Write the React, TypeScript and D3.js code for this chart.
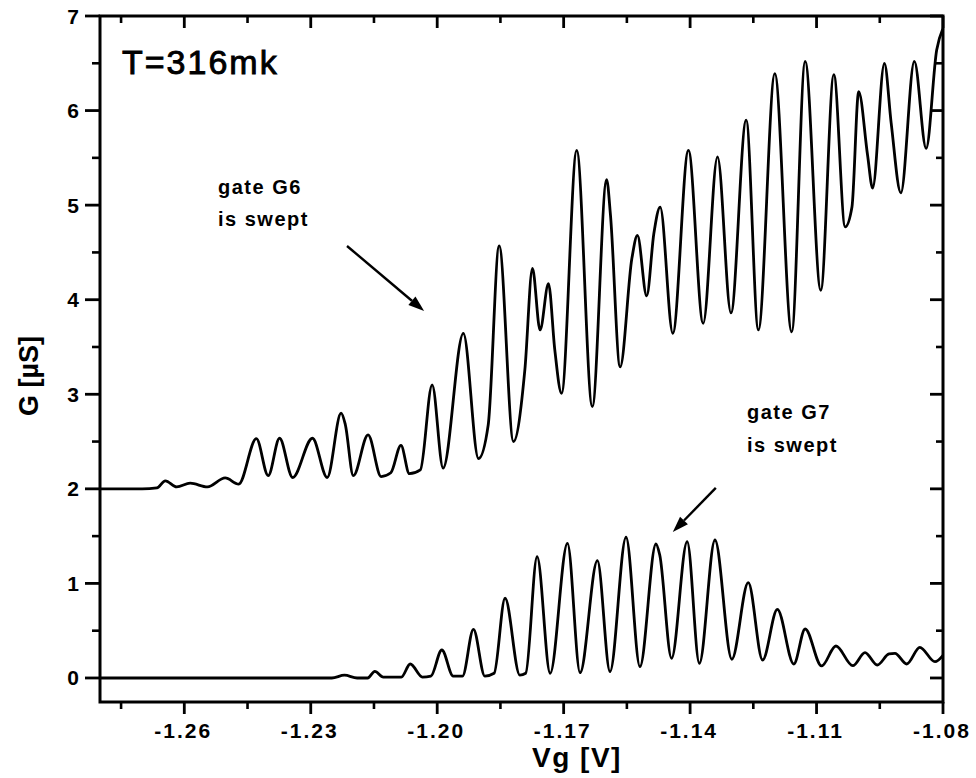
import React from "react";
import * as d3 from "d3";

// ---- data ----
const g6Vg = [
  -1.28, -1.27, -1.2665, -1.2645, -1.2618, -1.2586, -1.2545, -1.2503, -1.2471,
  -1.2429, -1.2401, -1.2374, -1.2343, -1.2296, -1.2261, -1.2228, -1.2218, -1.2199,
  -1.2164, -1.2133, -1.211, -1.2086, -1.2066, -1.204, -1.2012, -1.1986, -1.1938,
  -1.1902, -1.1879, -1.1853, -1.1819, -1.1792, -1.1774, -1.1756, -1.1736, -1.1721,
  -1.1705, -1.1669, -1.1632, -1.1598, -1.1589, -1.1566, -1.1538, -1.1525, -1.1503,
  -1.1486, -1.1471, -1.1441, -1.1404, -1.1369, -1.1335, -1.1303, -1.1267, -1.1238,
  -1.1199, -1.1159, -1.1127, -1.109, -1.1059, -1.1032, -1.1016, -1.1, -1.0979,
  -1.0967, -1.0939, -1.0923, -1.09, -1.0868, -1.084, -1.0815, -1.08,
];
const g6G = [
  2.0, 2.0, 2.01, 2.085, 2.02, 2.06, 2.02, 2.115, 2.05,
  2.53, 2.14, 2.535, 2.12, 2.535, 2.12, 2.8, 2.68, 2.14,
  2.57, 2.13, 2.17, 2.46, 2.16, 2.2, 3.1, 2.22, 3.645,
  2.32, 2.675, 4.57, 2.5, 3.26, 4.33, 3.68, 4.17, 3.47,
  3.01, 5.58, 2.87, 5.27, 4.9, 3.29, 4.44, 4.68, 4.04,
  4.7, 4.98, 3.645, 5.58, 3.75, 5.51, 3.86, 5.9, 3.68,
  6.39, 3.66, 6.52, 4.1, 6.38, 4.77, 4.98, 6.2, 5.53,
  5.18, 6.5, 5.87, 5.13, 6.52, 5.6, 6.64, 6.87,
];
const g7Vg = [
  -1.28, -1.225, -1.222, -1.219, -1.2165, -1.2148, -1.2128, -1.2085, -1.2064,
  -1.2035, -1.2015, -1.1989, -1.1962, -1.194, -1.1914, -1.1887, -1.1865, -1.1839,
  -1.1804, -1.179, -1.1763, -1.1732, -1.1691, -1.1661, -1.162, -1.159, -1.1552,
  -1.1519, -1.1481, -1.1472, -1.1444, -1.1407, -1.1378, -1.1341, -1.1301, -1.1262,
  -1.1228, -1.1193, -1.1154, -1.1127, -1.1088, -1.1054, -1.1014, -1.0985, -1.0956,
  -1.0928, -1.0914, -1.0886, -1.0855, -1.0819, -1.08,
];
const g7G = [
  0.0, 0.0, 0.03, 0.0, 0.0, 0.07, 0.01, 0.01, 0.148,
  0.01, 0.02, 0.296, 0.02, 0.02, 0.515, 0.02, 0.05, 0.843,
  0.03, 0.05, 1.283, 0.05, 1.424, 0.056, 1.24, 0.067, 1.488,
  0.12, 1.417, 1.3, 0.208, 1.441, 0.155, 1.459, 0.198, 1.008,
  0.19, 0.726, 0.148, 0.518, 0.127, 0.338, 0.13, 0.268, 0.137,
  0.254, 0.26, 0.148, 0.324, 0.172, 0.24,
];
const xTickLabels = ["-1.26", "-1.23", "-1.20", "-1.17", "-1.14", "-1.11", "-1.08"];
const yTickLabels = ["0", "1", "2", "3", "4", "5", "6", "7"];
const xMinorTicks = [-1.275, -1.245, -1.215, -1.185, -1.155, -1.125, -1.095];
const yMinorTicks = [0.5, 1.5, 2.5, 3.5, 4.5, 5.5, 6.5];

const W = 976;
const H = 778;
const L = 100, R = 943, T = 16, B = 702;

export default function App() {
  const x = d3.scaleLinear().domain([-1.28, -1.08]).range([L, R]);
  const y = d3.scaleLinear().domain([-0.254, 7]).range([B, T]);
  const line = d3
    .line<[number, number]>()
    .x((d) => x(d[0]))
    .y((d) => y(d[1]))
    .curve(d3.curveMonotoneX);
  const s6 = g6Vg.map((v, i) => [v, g6G[i]] as [number, number]);
  const s7 = g7Vg.map((v, i) => [v, g7G[i]] as [number, number]);
  const xMajor = xTickLabels.map(Number);
  const yMajor = yTickLabels.map(Number);
  const font = "'Liberation Sans', Arial, Helvetica, sans-serif";
  const arrow = (x1: number, y1: number, x2: number, y2: number) => {
    const px1 = x(x1), py1 = y(y1), px2 = x(x2), py2 = y(y2);
    const ang = Math.atan2(py2 - py1, px2 - px1);
    const len = 16, wid = 5.5;
    const bx = px2 - len * Math.cos(ang), by = py2 - len * Math.sin(ang);
    const nx = -Math.sin(ang), ny = Math.cos(ang);
    return (
      <g>
        <line x1={px1} y1={py1} x2={bx} y2={by} stroke="#000" strokeWidth={2.4} />
        <polygon
          points={`${px2},${py2} ${bx + nx * wid},${by + ny * wid} ${bx - nx * wid},${by - ny * wid}`}
          fill="#000"
        />
      </g>
    );
  };
  return (
    <svg
      width={W}
      height={H}
      style={{ position: "absolute", left: 0, top: 0, background: "#fff" }}
      fontFamily={font}
    >
      <rect x={0} y={0} width={W} height={H} fill="#fff" />
      {/* curves */}
      <path d={line(s6) || ""} fill="none" stroke="#000" strokeWidth={2.8} strokeLinejoin="round" />
      <path d={line(s7) || ""} fill="none" stroke="#000" strokeWidth={2.8} strokeLinejoin="round" />
      {/* frame */}
      <rect x={L} y={T} width={R - L} height={B - T} fill="none" stroke="#000" strokeWidth={3} />
      {/* bottom & top ticks */}
      {xMajor.map((v) => (
        <g key={"xm" + v}>
          <line x1={x(v)} x2={x(v)} y1={B} y2={B + 12} stroke="#000" strokeWidth={2.8} />
          <line x1={x(v)} x2={x(v)} y1={T} y2={T + 12} stroke="#000" strokeWidth={2.8} />
        </g>
      ))}
      {xMinorTicks.map((v) => (
        <g key={"xn" + v}>
          <line x1={x(v)} x2={x(v)} y1={B} y2={B + 7} stroke="#000" strokeWidth={2.6} />
          <line x1={x(v)} x2={x(v)} y1={T} y2={T + 7} stroke="#000" strokeWidth={2.6} />
        </g>
      ))}
      {/* left & right ticks */}
      {yMajor.map((v) => (
        <g key={"ym" + v}>
          <line x1={L - 15} x2={L} y1={y(v)} y2={y(v)} stroke="#000" strokeWidth={2.8} />
          <line x1={R - 13} x2={R} y1={y(v)} y2={y(v)} stroke="#000" strokeWidth={2.8} />
        </g>
      ))}
      {yMinorTicks.map((v) => (
        <g key={"yn" + v}>
          <line x1={L - 8} x2={L} y1={y(v)} y2={y(v)} stroke="#000" strokeWidth={2.6} />
          <line x1={R - 7} x2={R} y1={y(v)} y2={y(v)} stroke="#000" strokeWidth={2.6} />
        </g>
      ))}
      {/* tick labels */}
      {xTickLabels.map((t) => (
        <text
          key={"xl" + t}
          x={x(Number(t)) - 1}
          y={738}
          textAnchor="middle"
          fontSize={21}
          fontWeight="bold"
          letterSpacing={2}
        >
          {t}
        </text>
      ))}
      {yTickLabels.map((t) => (
        <text
          key={"yl" + t}
          x={79}
          y={y(Number(t)) + 7.5}
          textAnchor="end"
          fontSize={21}
          fontWeight="bold"
        >
          {t}
        </text>
      ))}
      {/* axis titles */}
      <text x={577} y={767} textAnchor="middle" fontSize={28} fontWeight="bold" letterSpacing={1.5}>
        Vg [V]
      </text>
      <text
        transform={`translate(38,376) rotate(-90)`}
        textAnchor="middle"
        fontSize={27}
        fontWeight="bold"
      >
        G [µS]
      </text>
      {/* annotations */}
      <text x={122} y={74} fontSize={34} letterSpacing={2} stroke="#000" strokeWidth={0.9}>
        T=316mk
      </text>
      <text x={218} y={194} fontSize={20} fontWeight="bold" letterSpacing={1.5}>
        gate G6
      </text>
      <text x={218} y={226} fontSize={20} fontWeight="bold" letterSpacing={1.5}>
        is swept
      </text>
      {arrow(-1.2214, 4.568, -1.2031, 3.88)}
      <text x={747} y={419} fontSize={20} fontWeight="bold" letterSpacing={1.5}>
        gate G7
      </text>
      <text x={747} y={452} fontSize={20} fontWeight="bold" letterSpacing={1.5}>
        is swept
      </text>
      {arrow(-1.1339, 2.01, -1.1441, 1.544)}
    </svg>
  );
}
